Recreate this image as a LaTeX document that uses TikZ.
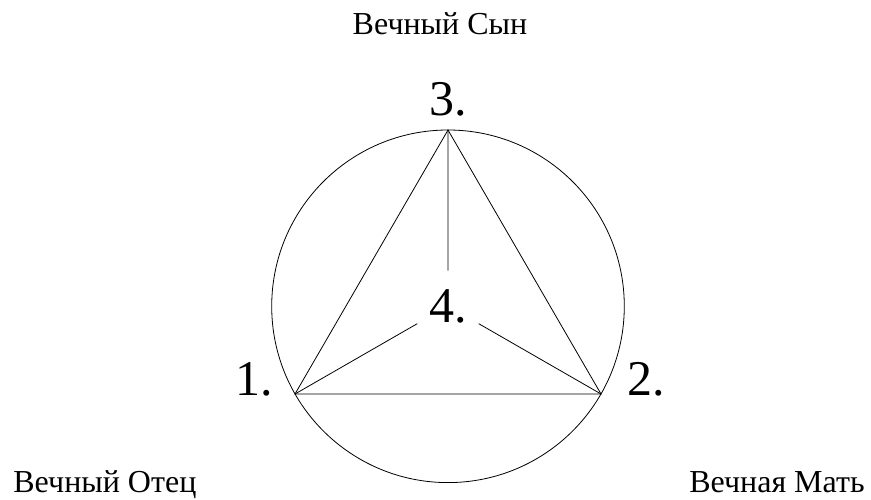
\documentclass[tikz,border=0pt]{standalone}
\usepackage{fontspec}
\setmainfont{Liberation Serif}
\usetikzlibrary{calc}

\begin{document}
\begin{tikzpicture}[x=1pt,y=-1pt,line width=.8pt,
                    num/.style={font=\fontsize{50}{50}\selectfont,inner sep=0pt},
                    person/.style={font=\fontsize{32}{32}\selectfont,inner sep=0pt}]
  \useasboundingbox (0,0) rectangle (871,500);
  % the three vertices lie on the circle
  \coordinate (v1) at (295,394);
  \coordinate (v2) at (601,394);
  \coordinate (v3) at (448,130);
  \coordinate (ctr) at (448,306.3);

  \draw (ctr) circle (176.3);
  \draw (v1)--(v2)--(v3)--cycle;

  \node[num,circle,minimum size=70pt] (n4) at ($1/3*(v1)+1/3*(v2)+1/3*(v3)$) {4.};
  \draw (v3)--(n4);
  \draw (v1)--(n4);
  \draw (v2)--(n4);

  \node[num,anchor=base] (l3) at (448,116) {3.};
  \node[num,anchor=base east] (l1) at (273,395) {1.};
  \node[num,anchor=base west] (l2) at (627,395) {2.};

  \node[person,anchor=base] (son) at (440,35) {Вечный Сын};
  \node[person,anchor=base west] (father) at (13,492) {Вечный Отец};
  \node[person,anchor=base east] (mother) at (865,492) {Вечная Мать};
\end{tikzpicture}
\end{document}
